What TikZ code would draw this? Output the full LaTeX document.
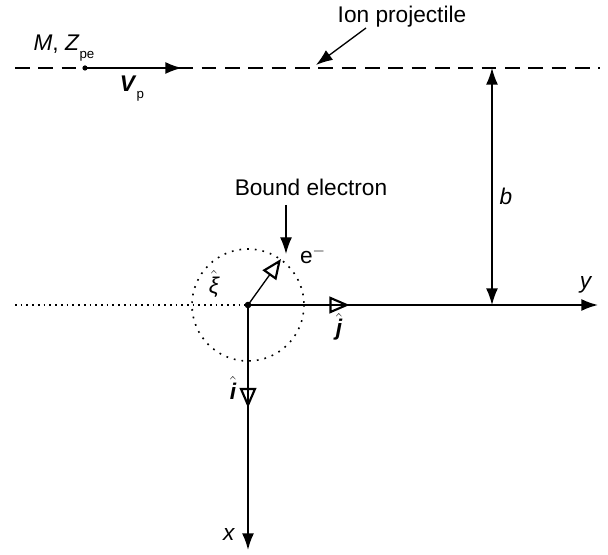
\documentclass[tikz,border=0pt]{standalone}
\usepackage{fontspec}
\setmainfont{Liberation Sans}
\usetikzlibrary{arrows.meta, positioning, decorations.markings}

\begin{document}
\begin{tikzpicture}[
  x=0.75pt, y=-0.75pt,
  font=\fontsize{17}{20}\selectfont,
  solidtip/.style={-{Latex[length=12.5pt, width=9pt]}},
  axisline/.style={line width=1.3pt, solidtip},
  pointer/.style={line width=1pt, solidtip},
  opentri/.style={postaction={decorate}, decoration={markings,
    mark=at position #1 with {\arrow{Triangle[open, length=15pt, width=12.5pt, line width=1.6pt]}}}},
  track/.style={line width=1pt, dash pattern=on 11pt off 6.5pt},
  guide/.style={line width=1.2pt, dash pattern=on 1.3pt off 4.5pt},
  lbl/.style={inner sep=1pt}
]
\useasboundingbox (0,0) rectangle (608,555);
% projectile track
\coordinate (tl) at (15,68);
\coordinate (tr) at (600,68);
\coordinate (ion) at (85,68);
\coordinate (vp) at (182,68);
\coordinate (bt) at (492,68);
\draw[track] (tl) -- (tr);
\fill (ion) circle (2.6);
\draw[line width=1.4pt, solidtip] (ion) -- (vp);
\node[lbl] (mz) at (64,48) {\textit{M}, \textit{Z}\raisebox{-0.6ex}{\fontsize{10}{11}\selectfont pe}};
\node[lbl] (vlabel) at (132,89) {\textbf{\textit{V}}\raisebox{-0.6ex}{\fontsize{10}{11}\selectfont p}};
\node[lbl] (proj) at (402,17) {Ion projectile};
\coordinate (projtip) at (316,65);
\draw[pointer] (366,28) -- (projtip);
% axes
\coordinate (O) at (248,305);
\coordinate (yend) at (598,305);
\coordinate (xend) at (248,550);
\coordinate (dl) at (15,305);
\coordinate (bb) at (492,305);
\draw[line width=1.1pt, dash pattern=on 1.3pt off 3pt] (dl) -- (O);
\draw[axisline, opentri=0.29] (O) -- (yend);
\draw[axisline, opentri=0.42] (O) -- (xend);
\draw[guide] (O) circle (56);
\fill (O) circle (3.3);
\node[lbl] (ylabel) at (586,285) {\textit{y}};
\node[lbl] (xlabel) at (229,535) {\textit{x}};
\node[lbl] (jlabel) at (339,327) {$\hat{\mbox{\bfseries\itshape j}}$};
\node[lbl] (ilabel) at (233,388) {$\hat{\mbox{\bfseries\itshape i}}$};
% impact parameter
\draw[line width=1.1pt, {Latex[length=12.5pt, width=9pt]}-{Latex[length=12.5pt, width=9pt]}] (bt) -- (bb);
\node[lbl] (blabel) at (506,196) {\textit{b}};
% bound electron
\coordinate (xiend) at (281,259);
\draw[line width=1pt, -{Triangle[open, length=15pt, width=12.5pt, line width=1.6pt]}] (O) -- (xiend);
\node[lbl] (xilabel) at (214,284) {$\hat{\mbox{\itshape ξ}}$};
\node[lbl] (elabel) at (313,255) {e$^{-}$};
\node[lbl] (bound) at (311,187) {Bound electron};
\coordinate (etip) at (286,254);
\draw[pointer] (286,205) -- (etip);
\end{tikzpicture}
\end{document}
